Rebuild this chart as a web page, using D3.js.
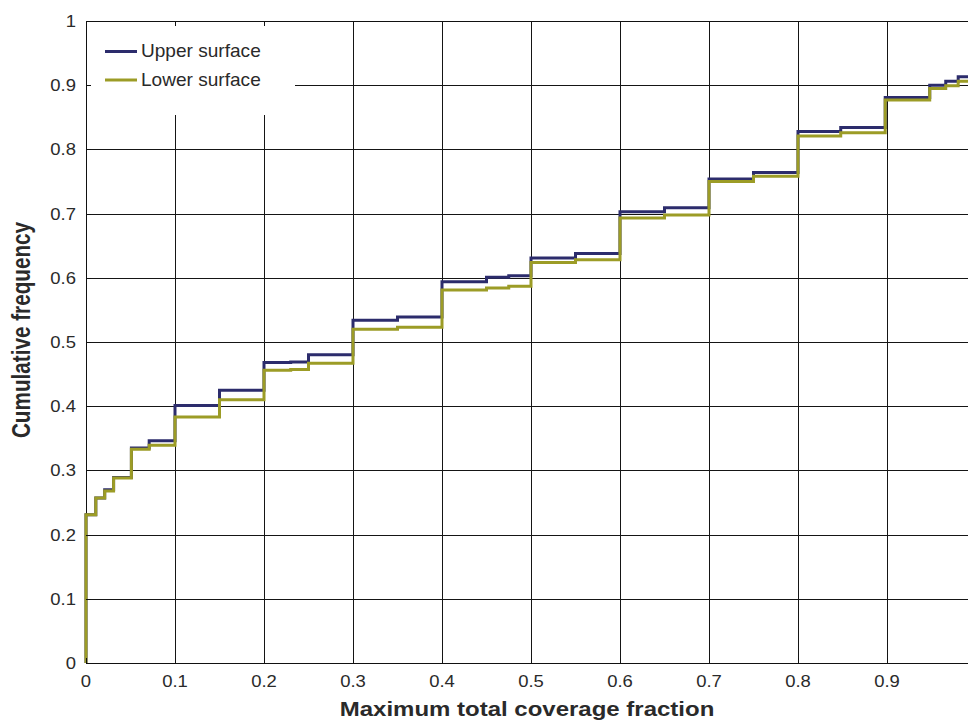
<!DOCTYPE html>
<html>
<head>
<meta charset="utf-8">
<script src="https://cdn.jsdelivr.net/npm/d3@7"></script>
<style>
  html, body { margin: 0; padding: 0; background: #fff; }
  svg { display: block; }
  text { font-family: "Liberation Sans", Arial, sans-serif; fill: #2a2a2a; }
</style>
</head>
<body>
<svg id="chart" width="968" height="724"></svg>
<script>
// Cumulative frequency of maximum total coverage fraction (step curves)
const upperX = [0, 0, 0.011, 0.021, 0.031, 0.051, 0.071, 0.100, 0.150, 0.200, 0.230, 0.250, 0.300, 0.350, 0.400, 0.450, 0.475, 0.500, 0.550, 0.600, 0.650, 0.700, 0.750, 0.800, 0.848, 0.898, 0.948, 0.966, 0.980, 1.000];
const upperY = [0, 0.231, 0.257, 0.270, 0.289, 0.335, 0.346, 0.401, 0.425, 0.468, 0.469, 0.480, 0.534, 0.539, 0.594, 0.601, 0.603, 0.631, 0.638, 0.703, 0.709, 0.754, 0.764, 0.828, 0.834, 0.881, 0.900, 0.906, 0.913, 0.913];

const lowerX = [0, 0, 0.011, 0.021, 0.031, 0.051, 0.071, 0.100, 0.150, 0.200, 0.230, 0.250, 0.300, 0.350, 0.400, 0.450, 0.475, 0.500, 0.550, 0.600, 0.650, 0.700, 0.750, 0.800, 0.848, 0.898, 0.948, 0.966, 0.980, 1.000];
const lowerY = [0, 0.231, 0.257, 0.268, 0.288, 0.333, 0.339, 0.383, 0.410, 0.456, 0.457, 0.467, 0.520, 0.523, 0.581, 0.584, 0.587, 0.624, 0.628, 0.693, 0.698, 0.750, 0.758, 0.821, 0.826, 0.877, 0.895, 0.899, 0.906, 0.906];

const xTicks = [0, 0.1, 0.2, 0.3, 0.4, 0.5, 0.6, 0.7, 0.8, 0.9];
const yTicks = [0, 0.1, 0.2, 0.3, 0.4, 0.5, 0.6, 0.7, 0.8, 0.9, 1];

const seriesNames = ["Upper surface", "Lower surface"];
const seriesColors = ["#2c2c6c", "#9c9c26"];

const svg = d3.select("#chart");
const plotLeft = 86, plotTop = 21, plotBottom = 663, plotRight = 976;

const x = d3.scaleLinear().domain([0, 1]).range([plotLeft, plotRight]);
const y = d3.scaleLinear().domain([0, 1]).range([plotBottom, plotTop]);

// grid
const grid = svg.append("g").attr("stroke", "#151515").attr("stroke-width", 1).attr("shape-rendering", "crispEdges");
grid.selectAll("line.gx").data(xTicks.slice(1)).join("line")
  .attr("x1", d => Math.round(x(d)) + 0.5).attr("x2", d => Math.round(x(d)) + 0.5)
  .attr("y1", plotTop).attr("y2", plotBottom);
grid.selectAll("line.gy").data(yTicks.slice(1, -1)).join("line")
  .attr("x1", plotLeft).attr("x2", plotRight)
  .attr("y1", d => Math.round(y(d)) + 0.5).attr("y2", d => Math.round(y(d)) + 0.5);

// axis lines (under the curves)
const frame = svg.append("g").attr("stroke", "#111").attr("stroke-width", 1).attr("shape-rendering", "crispEdges");
frame.append("line").attr("x1", plotLeft + 0.5).attr("x2", plotLeft + 0.5).attr("y1", plotTop).attr("y2", plotBottom + 1);
frame.append("line").attr("x1", plotLeft).attr("x2", plotRight).attr("y1", plotBottom + 0.5).attr("y2", plotBottom + 0.5);
frame.append("line").attr("x1", plotLeft).attr("x2", plotRight).attr("y1", plotTop + 0.5).attr("y2", plotTop + 0.5);

// series
svg.append("clipPath").attr("id", "plotClip").append("rect")
  .attr("x", plotLeft - 2).attr("y", plotTop).attr("width", plotRight - plotLeft + 2).attr("height", plotBottom - plotTop);

const line = d3.line().x(d => x(d[0])).y(d => y(d[1])).curve(d3.curveStepAfter);
const series = [d3.zip(upperX, upperY), d3.zip(lowerX, lowerY)];
svg.append("g").attr("clip-path", "url(#plotClip)")
  .selectAll("path").data(series).join("path")
  .attr("d", line)
  .attr("fill", "none")
  .attr("stroke", (d, i) => seriesColors[i])
  .attr("stroke-width", 3)
  .attr("stroke-linejoin", "miter");

// legend box
const legend = svg.append("g");
legend.append("rect").attr("x", plotLeft + 1).attr("y", plotTop + 1).attr("width", 208).attr("height", 93).attr("fill", "#fff");
seriesNames.forEach((name, i) => {
  const ly = 51.5 + i * 28.5;
  legend.append("line").attr("x1", 105).attr("x2", 137).attr("y1", ly).attr("y2", ly)
    .attr("stroke", seriesColors[i]).attr("stroke-width", 3);
  legend.append("g").attr("transform", `translate(141,${ly + 5.5}) scale(1.09,1)`)
    .append("text").attr("font-size", 17.5).text(name);
});

// inward ticks
const ticks = svg.append("g").attr("stroke", "#111").attr("stroke-width", 1).attr("shape-rendering", "crispEdges");
xTicks.forEach(t => {
  const px = Math.round(x(t)) + 0.5;
  ticks.append("line").attr("x1", px).attr("x2", px).attr("y1", plotTop).attr("y2", plotTop + 5);
  ticks.append("line").attr("x1", px).attr("x2", px).attr("y1", plotBottom - 5).attr("y2", plotBottom);
});
yTicks.forEach(t => {
  const py = Math.round(y(t)) + 0.5;
  ticks.append("line").attr("x1", plotLeft).attr("x2", plotLeft + 5).attr("y1", py).attr("y2", py);
});

// tick labels
const fmt = d => d === 0 ? "0" : d === 1 ? "1" : d3.format(".1f")(d);
svg.append("g").selectAll("g").data(xTicks).join("g")
  .attr("transform", d => `translate(${x(d)},687) scale(1.12,1)`)
  .append("text").attr("text-anchor", "middle").attr("font-size", 16.5).text(fmt);
svg.append("g").selectAll("g").data(yTicks).join("g")
  .attr("transform", d => `translate(76,${y(d) + 6}) scale(1.12,1)`)
  .append("text").attr("text-anchor", "end").attr("font-size", 16.5).text(fmt);

// axis titles
svg.append("g").attr("transform", "translate(527,716) scale(1.2,1)")
  .append("text").attr("text-anchor", "middle").attr("font-size", 20).attr("font-weight", "bold")
  .text("Maximum total coverage fraction");
svg.append("g").attr("transform", "translate(30,330) rotate(-90)")
  .append("text").attr("text-anchor", "middle").attr("font-size", 20.7).attr("font-weight", "bold")
  .attr("transform", "scale(1,1.2)")
  .text("Cumulative frequency");
</script>
</body>
</html>
